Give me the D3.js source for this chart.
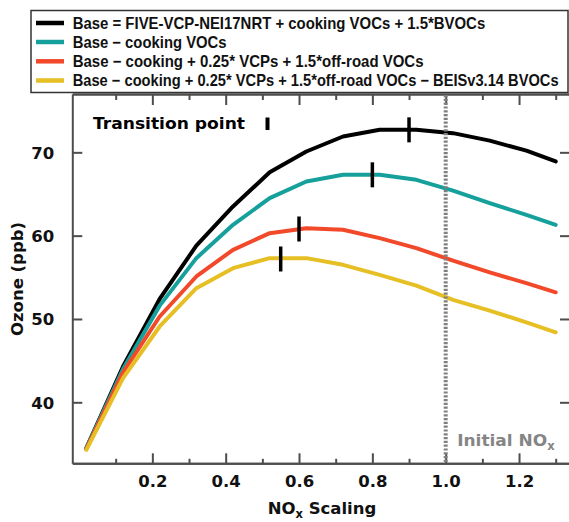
<!DOCTYPE html>
<html><head><meta charset="utf-8">
<script src="https://cdn.jsdelivr.net/npm/d3@7"></script>
<style>body{margin:0;background:#fff}svg{display:block}</style>
</head><body>
<svg id="chart" width="569" height="522"></svg>
<script>
// ---- data ----
const noxScaling = [0.02, 0.12, 0.22, 0.32, 0.42, 0.52, 0.62, 0.72, 0.82, 0.92, 1.02, 1.12, 1.22, 1.30];
const baseRun     = [34.5, 44.3, 52.4, 58.8, 63.5, 67.6, 70.1, 71.9, 72.7, 72.7, 72.3, 71.4, 70.2, 68.9];
const noCooking   = [34.5, 44.0, 51.6, 57.3, 61.3, 64.5, 66.5, 67.3, 67.3, 66.7, 65.4, 63.9, 62.5, 61.3];
const vcpOffroad  = [34.4, 43.6, 50.3, 55.1, 58.3, 60.3, 60.9, 60.7, 59.7, 58.5, 57.0, 55.6, 54.3, 53.2];
const beisBvoc    = [34.3, 42.9, 49.1, 53.7, 56.1, 57.3, 57.3, 56.5, 55.3, 54.0, 52.3, 51.0, 49.6, 48.4];
const seriesNames = [
  "Base = FIVE-VCP-NEI17NRT + cooking VOCs + 1.5*BVOCs",
  "Base \u2212 cooking VOCs",
  "Base \u2212 cooking + 0.25* VCPs + 1.5*off-road VOCs",
  "Base \u2212 cooking + 0.25* VCPs + 1.5*off-road VOCs \u2212 BEISv3.14 BVOCs"
];
const seriesColors = ["#000000", "#16a09c", "#f2492b", "#e6bf25"];
const transitionX = [0.9, 0.8, 0.6, 0.55];
const transitionY = [72.7, 67.3, 60.8, 57.2];
const xMajorTicks = [0.2, 0.4, 0.6, 0.8, 1.0, 1.2];
const xMinorTicks = [0.1, 0.3, 0.5, 0.7, 0.9, 1.1, 1.3];
const yTicks = [40, 50, 60, 70];
const initialNox = 1.0;

const allSeries = [baseRun, noCooking, vcpOffroad, beisBvoc];

// ---- layout ----
const svg = d3.select("#chart");
const L = 72.3, R = 570, T = 94, B = 463.3;
const x = d3.scaleLinear().domain([-0.0183, 1.339]).range([L, R]);
const y = d3.scaleLinear().domain([32.68, 77.0]).range([B, T]);
const axisColor = "#4d4d4d";
const tickFont = "'DejaVu Sans', sans-serif";

// ---- legend ----
const leg = svg.append("g");
leg.append("rect").attr("x", 31).attr("y", 10.5).attr("width", 537).attr("height", 82)
  .attr("fill", "#fff").attr("stroke", "#333").attr("stroke-width", 1.5);
const legBase = [28.5, 47.5, 66.8, 86];
const legWidths = [413, 154, 351, 486];
seriesNames.forEach((name, i) => {
  leg.append("line").attr("x1", 36).attr("x2", 64)
    .attr("y1", legBase[i] - 5.5).attr("y2", legBase[i] - 5.5)
    .attr("stroke", seriesColors[i]).attr("stroke-width", 4.5);
  const g = leg.append("g");
  const t = g.append("text").attr("x", 0).attr("y", 0)
    .attr("font-family", "'Liberation Sans', Arial, sans-serif")
    .attr("font-weight", "bold").attr("font-size", 16.5)
    .attr("fill", "#111").text(name);
  const nat = t.node().getComputedTextLength();
  g.attr("transform", `translate(72.7,${legBase[i]}) scale(${legWidths[i] / nat},1)`);
});

// ---- axes ----
const xb = d3.axisBottom(x).tickValues(xMajorTicks).tickSizeInner(-10).tickSizeOuter(0)
  .tickFormat(d3.format(".1f")).tickPadding(16);
const gxb = svg.append("g").attr("transform", `translate(0,${B})`).call(xb);
const xbm = d3.axisBottom(x).tickValues(xMinorTicks).tickSizeInner(-4.5).tickSizeOuter(0).tickFormat("");
const gxbm = svg.append("g").attr("transform", `translate(0,${B})`).call(xbm);
const xt = d3.axisTop(x).tickValues(xMajorTicks).tickSizeInner(-11).tickSizeOuter(0).tickFormat("");
const gxt = svg.append("g").attr("transform", `translate(0,${T})`).call(xt);
const xtm = d3.axisTop(x).tickValues(xMinorTicks).tickSizeInner(-6).tickSizeOuter(0).tickFormat("");
const gxtm = svg.append("g").attr("transform", `translate(0,${T})`).call(xtm);
const yl = d3.axisLeft(y).tickValues(yTicks).tickSizeInner(-10).tickSizeOuter(0).tickPadding(18);
const gyl = svg.append("g").attr("transform", `translate(${L},0)`).call(yl);
const yr = d3.axisRight(y).tickValues(yTicks).tickSizeInner(-10).tickSizeOuter(0).tickFormat("");
const gyr = svg.append("g").attr("transform", `translate(${R},0)`).call(yr);

[gxb, gxbm, gxt, gxtm, gyl, gyr].forEach(g => {
  g.select(".domain").attr("stroke", axisColor).attr("stroke-width", 2);
  g.selectAll(".tick line").attr("stroke", axisColor).attr("stroke-width", 2);
  g.selectAll(".tick text").attr("font-family", tickFont).attr("font-weight", "bold")
    .attr("font-size", 16.5).attr("fill", "#111");
});
gxb.selectAll(".tick text").attr("dy", "0.45em");
gyl.selectAll(".tick text").attr("dy", "0.36em");

// ---- curves ----
const line = d3.line().x((d, i) => x(noxScaling[i])).y(d => y(d));
allSeries.forEach((s, i) => {
  svg.append("path").datum(s).attr("d", line).attr("fill", "none")
    .attr("stroke", seriesColors[i]).attr("stroke-width", 4)
    .attr("stroke-linejoin", "round").attr("stroke-linecap", "round");
});

// ---- initial NOx line ----
svg.append("line").attr("x1", x(initialNox)).attr("x2", x(initialNox))
  .attr("y1", T + 1).attr("y2", B)
  .attr("stroke", "#808080").attr("stroke-width", 4).attr("stroke-dasharray", "2.2,1.6");
const initLbl = svg.append("text").attr("x", x(initialNox) + 11.5).attr("y", 446)
  .attr("font-family", tickFont).attr("font-weight", "bold").attr("font-size", 16.5)
  .attr("fill", "#858585");
initLbl.append("tspan").attr("textLength", 90).attr("lengthAdjust", "spacingAndGlyphs").text("Initial NO");
initLbl.append("tspan").attr("font-size", 11.5).attr("dy", 4).text("x");

// ---- transition points ----
transitionX.forEach((tx, i) => {
  svg.append("line").attr("x1", x(tx)).attr("x2", x(tx))
    .attr("y1", y(transitionY[i]) - 12.5).attr("y2", y(transitionY[i]) + 12.5)
    .attr("stroke", "#000").attr("stroke-width", 3.5);
});
svg.append("text").attr("x", 93).attr("y", 129.3)
  .attr("font-family", tickFont).attr("font-weight", "bold").attr("font-size", 16.5)
  .attr("textLength", 152).attr("lengthAdjust", "spacingAndGlyphs")
  .attr("fill", "#000").text("Transition point");
svg.append("line").attr("x1", 267.5).attr("x2", 267.5).attr("y1", 117.5).attr("y2", 130)
  .attr("stroke", "#000").attr("stroke-width", 4);

// ---- axis titles ----
svg.append("text").attr("transform", "translate(23,279) rotate(-90)")
  .attr("text-anchor", "middle").attr("font-family", tickFont).attr("font-weight", "bold")
  .attr("font-size", 16.5).attr("fill", "#111").text("Ozone (ppb)");
const xl = svg.append("text").attr("x", 322).attr("y", 514).attr("text-anchor", "middle")
  .attr("font-family", tickFont).attr("font-weight", "bold").attr("font-size", 16.5).attr("fill", "#111");
xl.append("tspan").text("NO");
xl.append("tspan").attr("font-size", 11.5).attr("dy", 4).text("x");
xl.append("tspan").attr("dy", -4).text(" Scaling");
</script>
</body></html>
